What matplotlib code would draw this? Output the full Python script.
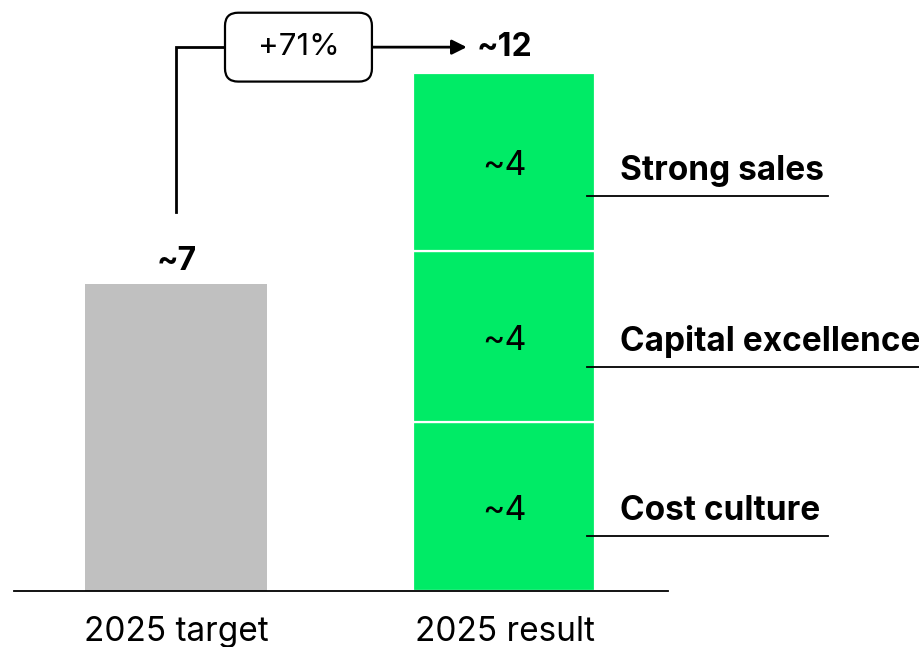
import numpy as np
import matplotlib.pyplot as plt
from matplotlib.patches import FancyBboxPatch

plt.rcParams['font.family'] = ['Inter', 'DejaVu Sans']

# values
categories = ['2025 target', '2025 result']
target_value = 7.0
target_label = '~7'
segment_values = [3.85, 3.9, 4.05]          # bottom -> top
segment_labels = ['~4', '~4', '~4']
segment_names = ['Cost culture', 'Capital excellence', 'Strong sales']
result_label = '~12'
change_label = '+71%'

grey = '#c0c0c0'
green = '#00eb66'

fig = plt.figure(figsize=(9.2, 6.47), dpi=100)
ax = fig.add_axes([0, 0, 1, 1])
ax.set_xlim(-0.538, 2.267)
ax.set_ylim(-1.277, 13.475)
ax.axis('off')

# pixel -> data helpers for small offsets
px_x = (2.267 + 0.538) / 920
px_y = (13.475 + 1.277) / 647

x = np.arange(len(categories))
width = 0.555

# grey target bar
ax.bar(x[0], target_value, width=width, color=grey, zorder=2)
ax.text(x[0], target_value + 14 * px_y, target_label, ha='center', va='baseline',
        fontsize=23, fontweight='bold')

# stacked green result bar
bottoms = np.concatenate([[0], np.cumsum(segment_values)[:-1]])
ax.bar([x[1]] * len(segment_values), segment_values, bottom=bottoms, width=width,
       color=green, edgecolor='white', linewidth=1.6, zorder=2)
for b, v, lab, name in zip(bottoms, segment_values, segment_labels, segment_names):
    ax.text(x[1], b + v / 2 - 13 * px_y, lab, ha='center', va='baseline', fontsize=24.5)
    ly = b + 55 * px_y
    line_end = 2.267 if len(name) > 14 else 1.987
    ax.plot([1.252, line_end], [ly, ly], color='black', lw=1.3, zorder=3)
    ax.text(1.352, ly + 16 * px_y, name, ha='left', va='baseline', fontsize=24,
            fontweight='bold')

total = sum(segment_values)

# baseline
ax.plot([-0.495, 1.498], [0, 0], color='black', lw=1.3, zorder=3)

# category labels under the bars
for xi, cat in zip(x, categories):
    ax.text(xi, -50 * px_y, cat, ha='center', va='baseline', fontsize=24)

# growth bracket
line_y = total + 0.6
ax.plot([x[0], x[0], 0.148], [target_value + 1.64, line_y, line_y], color='black',
        lw=2, solid_joinstyle='miter', zorder=3)
ax.annotate('', xy=(0.885, line_y), xytext=(0.596, line_y),
            arrowprops=dict(arrowstyle='-|>', color='black', lw=2,
                            mutation_scale=22, shrinkA=0, shrinkB=0))
box_w, box_h = 0.448, 1.57
box = FancyBboxPatch((0.372 - box_w / 2, line_y - box_h / 2), box_w, box_h,
                     boxstyle='round,pad=0,rounding_size=0.04',
                     mutation_aspect=px_y / px_x, facecolor='white',
                     edgecolor='black', lw=1.6, zorder=4)
ax.add_patch(box)
ax.text(0.372, line_y, change_label, ha='center', va='center', fontsize=22.5, zorder=5)
ax.text(x[1], line_y, result_label, ha='center', va='center', fontsize=23,
        fontweight='bold')

fig.savefig('out.png', dpi=100)
